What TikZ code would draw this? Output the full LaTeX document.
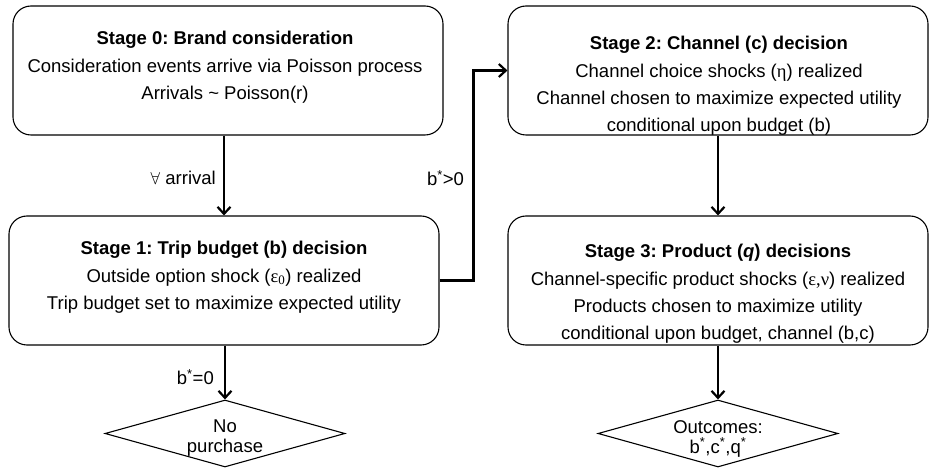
\documentclass[tikz,border=0pt]{standalone}
\usepackage{fontspec}
\setmainfont{Liberation Sans}
\newfontfamily\grk{Liberation Serif}
\usetikzlibrary{shapes.geometric,arrows.meta}
\frenchspacing
\begin{document}
\begin{tikzpicture}[x=1pt,y=1pt,
  stagebox/.style={draw, line width=1.1pt, rounded corners=18pt, minimum height=129pt, inner sep=0pt},
  stagetext/.style={align=center, inner sep=0pt, font=\frenchspacing\fontsize{18.5}{27.3}\selectfont},
  lbl/.style={inner sep=0pt, font=\fontsize{18.5}{22}\selectfont},
  endbox/.style={draw, line width=1.1pt, shape=diamond, shape aspect=3.58, minimum width=240pt, minimum height=67pt, inner sep=0pt, align=center, font=\fontsize{18.5}{20}\selectfont},
  conn/.style={line width=2.2pt, -{Straight Barb[length=7pt,width=13pt,line width=2.2pt]}}
]
\useasboundingbox (0,0) rectangle (930,-470);

% stage boxes
\node[stagebox, minimum width=430pt] (s0) at (228,-70.5) {};
\node[stagebox, minimum width=430pt] (s1) at (224,-280.5) {};
\node[stagebox, minimum width=420pt] (s2) at (718,-70.5) {};
\node[stagebox, minimum width=420pt] (s3) at (718,-280.5) {};

% stage texts
\node[stagetext] (t0) at (225,-67.5) {\textbf{Stage 0: Brand consideration}\\Consideration events arrive via Poisson process\\Arrivals \textasciitilde{} Poisson(r)};
\node[stagetext] (t1) at (224,-277.5) {\textbf{Stage 1: Trip budget (b) decision}\\Outside option shock ({\grk ε\textsubscript{0}}) realized\\Trip budget set to maximize expected utility};
\node[stagetext] (t2) at (719,-86) {\textbf{Stage 2: Channel (c) decision}\\Channel choice shocks ({\grk η}) realized\\Channel chosen to maximize expected utility\\conditional upon budget (b)};
\node[stagetext] (t3) at (718,-294) {\textbf{Stage 3: Product (\textit{q}) decisions}\\Channel-specific product shocks ({\grk ε,ν}) realized\\Products chosen to maximize utility\\conditional upon budget, channel (b,c)};

% end diamonds
\node[endbox] (np) at (225,-433.5) {\raisebox{-5pt}[\height][\depth]{\parbox{100pt}{\centering No\\purchase}}};
\node[endbox] (out) at (718,-433.5) {\raisebox{-5pt}[\height][\depth]{\parbox{100pt}{\centering Outcomes:\\b\textsuperscript{*},c\textsuperscript{*},q\textsuperscript{*}}}};

% connectors
\draw[conn] (s0.south -| s1.north) -- (s1.north);
\draw[conn] (s1.south -| np.north) -- (np.north);
\draw[conn] (s1.east) -- ++(34,0) |- (s2.west);
\draw[conn] (s2.south) -- (s3.north);
\draw[conn] (s3.south) -- (out.north);

% labels
\node[lbl, anchor=east] (la) at (216,-178) {$\forall$ arrival};
\node[lbl] (lb) at (445.5,-178) {b\textsuperscript{*}>0};
\node[lbl, anchor=east] (lc) at (214,-377) {b\textsuperscript{*}=0};
\end{tikzpicture}
\end{document}
